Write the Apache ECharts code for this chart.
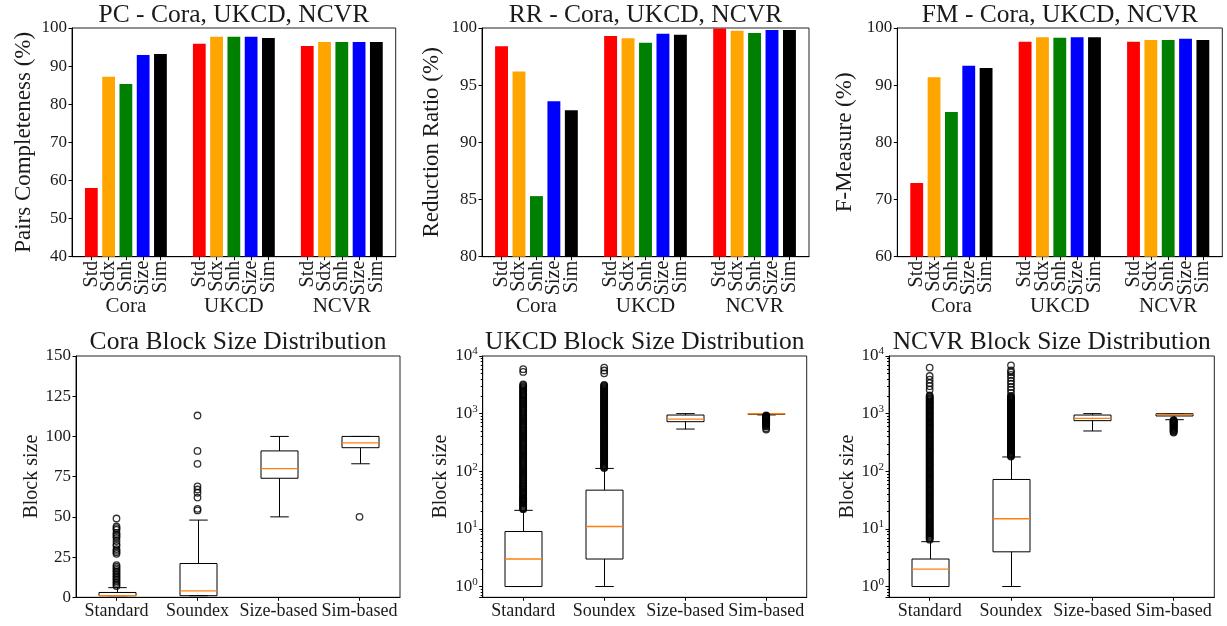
<!DOCTYPE html>
<html><head><meta charset="utf-8">
<script src="https://cdn.jsdelivr.net/npm/echarts@6/dist/echarts.min.js"></script>
<style>html,body{margin:0;padding:0;background:#fff}#c{width:1227px;height:626px}</style>
</head><body><div id="c"></div><script>
// ---------- data ----------
const datasets = ['Cora', 'UKCD', 'NCVR'];
const methods = ['Std', 'Sdx', 'Snh', 'Size', 'Sim'];
const pcValues = [[58.0, 87.2, 85.3, 92.9, 93.2], [95.9, 97.7, 97.7, 97.7, 97.4], [95.3, 96.3, 96.3, 96.3, 96.3]];
const rrValues = [[98.4, 96.2, 85.3, 93.6, 92.8], [99.3, 99.1, 98.7, 99.5, 99.4], [99.95, 99.75, 99.56, 99.83, 99.83]];
const fmValues = [[72.9, 91.4, 85.3, 93.4, 93.0], [97.6, 98.4, 98.3, 98.4, 98.4], [97.6, 97.9, 97.9, 98.1, 97.9]];
const pcTicks = [40, 100, 10];
const rrTicks = [80, 100, 5];
const fmTicks = [60, 100, 10];

const blockCats = ['Standard', 'Soundex', 'Size-based', 'Sim-based'];
// each box: [lower whisker, q1, median, q3, upper whisker]
const coraBoxes = [[1, 1, 1, 3, 6], [1, 1, 4, 21, 48], [50, 74, 80, 91, 100], [83, 93, 96, 100, 100]];
const coraOutStandard = [7, 8, 9, 10, 11, 12, 13, 14, 15, 16, 17, 18, 19, 20, 27, 28, 29, 30, 32, 33, 35, 37, 38, 39, 40, 42, 43, 44, 49];
const coraOutSoundex = [54, 55, 62, 65, 67, 69, 83, 91, 113];
const coraOutSize = [];
const coraOutSim = [50];

const ukcdBoxes = [[1, 1, 3, 9, 21], [1, 3, 11, 47, 112], [540, 725, 805, 945, 1000], [950, 975, 995, 1000, 1000]];
const ukcdOutStandard = [22, 22.5, 23, 24, 25, 26, 27, 28, 29, 30, 31, 32, 33, 34, 35, 37, 38, 40, 41, 43, 45, 47, 49, 51, 53, 55, 57, 60, 62, 65, 68, 71, 74, 77, 80, 84, 87, 91, 95, 99, 103, 108, 112, 117, 122, 128, 133, 139, 145, 151, 158, 165, 172, 179, 187, 195, 204, 213, 222, 231, 241, 252, 263, 274, 286, 298, 311, 325, 339, 353, 369, 385, 401, 419, 437, 456, 476, 496, 518, 540, 564, 588, 614, 640, 668, 697, 727, 759, 792, 826, 862, 899, 938, 979, 1021, 1066, 1112, 1160, 1210, 1263, 1318, 1375, 1434, 1497, 1562, 1629, 1700, 1774, 1851, 1931, 2015, 2102, 2193, 2289, 2388, 2491, 2600, 2712, 2830, 2953, 3081, 3200, 5300, 5900];
const ukcdOutSoundex = [114, 117, 121, 125, 129, 133, 137, 141, 146, 150, 155, 160, 165, 170, 176, 181, 187, 193, 199, 205, 212, 218, 225, 232, 240, 247, 255, 263, 271, 280, 289, 298, 307, 317, 327, 337, 348, 359, 370, 382, 394, 406, 419, 432, 446, 460, 474, 489, 505, 521, 537, 554, 572, 590, 608, 628, 647, 668, 689, 711, 733, 756, 780, 805, 830, 856, 883, 911, 940, 970, 1000, 1032, 1064, 1098, 1133, 1168, 1205, 1243, 1283, 1323, 1365, 1408, 1453, 1499, 1546, 1595, 1645, 1697, 1751, 1806, 1863, 1922, 1983, 2046, 2110, 2177, 2246, 2317, 2390, 2466, 2544, 2624, 2707, 2793, 2881, 2972, 3066, 3150, 5000, 5600, 6300];
const ukcdOutSize = [];
const ukcdOutSim = [930, 915, 900, 885, 870, 855, 840, 825, 810, 795, 780, 765, 750, 735, 720, 705, 690, 675, 660, 645, 630, 615, 600, 560, 530];

const ncvrBoxes = [[1, 1, 2, 3, 6], [1, 4, 15, 72, 177], [500, 755, 830, 945, 1000], [785, 910, 970, 1000, 1000]];
const ncvrOutStandard = [6.5, 6.8, 7, 7.3, 7.6, 7.9, 8.2, 8.5, 8.8, 9.2, 9.5, 9.9, 10.3, 10.7, 11.1, 11.5, 12, 12.5, 13, 13.5, 14, 14.6, 15.2, 15.8, 16.4, 17, 17.7, 18.4, 19.1, 19.9, 20.7, 21.5, 22.3, 23.2, 24.1, 25, 26, 27, 28, 29.2, 30.3, 31.5, 32.8, 34, 35.4, 36.8, 38.2, 39.7, 41.3, 42.9, 44.6, 46.4, 48.2, 50.1, 52, 54, 56.2, 58.4, 60.7, 63, 65.5, 68, 70.7, 73.5, 76.4, 79.4, 82.5, 85.7, 89, 92.5, 96, 100, 104, 108, 112, 117, 121, 126, 131, 136, 141, 147, 153, 159, 165, 171, 178, 185, 192, 200, 208, 216, 224, 233, 242, 252, 262, 272, 282, 293, 305, 317, 329, 342, 355, 369, 384, 399, 414, 430, 447, 465, 483, 502, 521, 542, 563, 585, 608, 632, 656, 682, 709, 736, 765, 795, 826, 858, 892, 927, 963, 1000, 1039, 1080, 1122, 1166, 1211, 1259, 1308, 1359, 1412, 1467, 1524, 1584, 1646, 1710, 1777, 1846, 1918, 1993, 2071, 2600, 3000, 3400, 3900, 4500, 6300];
const ncvrOutSoundex = [180, 185, 190, 195, 200, 206, 212, 218, 224, 230, 236, 243, 250, 257, 264, 271, 279, 287, 295, 303, 312, 320, 329, 339, 348, 358, 368, 378, 389, 400, 411, 423, 435, 447, 460, 473, 486, 500, 514, 528, 543, 559, 574, 591, 607, 624, 642, 660, 679, 698, 718, 738, 759, 780, 802, 825, 848, 872, 897, 922, 948, 975, 1003, 1031, 1060, 1090, 1121, 1153, 1185, 1219, 1253, 1289, 1325, 1363, 1401, 1441, 1482, 1523, 1566, 1611, 1656, 1703, 1751, 1801, 1852, 1904, 1958, 2013, 2300, 2600, 2900, 3300, 3700, 4200, 4700, 5200, 5600, 6900];
const ncvrOutSize = [];
const ncvrOutSim = [770, 755, 740, 725, 710, 695, 680, 665, 650, 635, 620, 605, 590, 575, 560, 545, 530, 515, 500, 485, 470];

const coraYTicks = [0, 150, 25];
const logMinorValues = [0.7, 0.8, 0.9, 2, 3, 4, 5, 6, 7, 8, 9, 20, 30, 40, 50, 60, 70, 80, 90, 200, 300, 400, 500, 600, 700, 800, 900, 2000, 3000, 4000, 5000, 6000, 7000, 8000, 9000];

// ---------- styles / layout ----------
const FONT = 'Liberation Serif';
const TXT = '#1a1a1a';
const methodColors = ['#ff0000', '#ffa500', '#008000', '#0000ff', '#000000'];
const MEDIAN = '#ff7f0e';
const topRects = [
  { left: 72, top: 28, width: 323.7, height: 228.7 },
  { left: 482, top: 28, width: 327, height: 228.7 },
  { left: 897.3, top: 28, width: 325, height: 228.7 }
];
const botRects = [
  { left: 76, top: 356, width: 324, height: 241.3 },
  { left: 482.7, top: 356, width: 324, height: 241.3 },
  { left: 889, top: 356, width: 325.3, height: 241.3 }
];
const GROUP_STEP = 6.25, X_MIN = -1.12, X_MAX = 17.62, BAR_FRAC = 0.74;
const BOX_W = 37;

const grids = [], xAxes = [], yAxes = [], series = [], titles = [];

function addGrid(r) { grids.push(Object.assign({ containLabel: false, show: false }, r)); return grids.length - 1; }
function frameGrid(r) {
  return Object.assign({ show: true, borderColor: '#222', borderWidth: 1, backgroundColor: 'transparent' }, r);
}
function tickStyle(len) { return { show: true, inside: false, length: len, lineStyle: { color: '#000', width: 1 } }; }
const axLine = { show: true, onZero: false, lineStyle: { color: '#000' } };
function addTitle(text, r, topPx) {
  titles.push({
    text, left: r.left + r.width / 2, top: topPx, textAlign: 'center', padding: 0,
    textStyle: { fontFamily: FONT, fontSize: 25.5, fontWeight: 'normal', color: TXT }
  });
}

// ---------- top row bar charts ----------
const topSpecs = [
  { title: 'PC - Cora, UKCD, NCVR', name: 'Pairs Completeness (%)', values: pcValues, ticks: pcTicks, gap: 37 },
  { title: 'RR - Cora, UKCD, NCVR', name: 'Reduction Ratio (%)', values: rrValues, ticks: rrTicks, gap: 39 },
  { title: 'FM - Cora, UKCD, NCVR', name: 'F-Measure (%)', values: fmValues, ticks: fmTicks, gap: 41 }
];
const barPositions = [];
datasets.forEach((d, g) => methods.forEach((m, i) => barPositions.push(g * GROUP_STEP + i)));
// blank end labels keep the automatic min/max label check away from the real labels
const barLabelValues = [X_MIN].concat(barPositions, [X_MAX]);
function posToMethod(v) {
  if (v < -0.5 || v > 2 * GROUP_STEP + 4.5) return '';
  const g = Math.floor((v + 0.5) / GROUP_STEP);
  const i = Math.round(v - g * GROUP_STEP);
  return methods[i] || '';
}
function posToDataset(v) { return datasets[Math.round((v - 2) / GROUP_STEP)] || ''; }

topSpecs.forEach((s, k) => {
  const r = topRects[k];
  grids.push(frameGrid(r));
  const gi = grids.length - 1;
  xAxes.push({
    gridIndex: gi, type: 'value', min: X_MIN, max: X_MAX, splitLine: { show: false },
    axisLine: axLine,
    axisTick: Object.assign(tickStyle(3.5), { customValues: barPositions }),
    axisLabel: {
      customValues: barLabelValues, rotate: 90, margin: 4, formatter: posToMethod, interval: 0,
      showMinLabel: true, showMaxLabel: true, hideOverlap: false,
      fontFamily: FONT, fontSize: 20, lineHeight: 13, color: TXT
    }
  });
  yAxes.push({
    gridIndex: gi, type: 'value', min: s.ticks[0], max: s.ticks[1], interval: s.ticks[2],
    splitLine: { show: false }, axisLine: axLine,
    axisTick: tickStyle(3.5),
    axisLabel: { fontFamily: FONT, fontSize: 17, color: TXT, margin: 5 },
    name: s.name, nameLocation: 'middle', nameGap: s.gap,
    nameTextStyle: { fontFamily: FONT, fontSize: 23, color: TXT }
  });
  const ai = xAxes.length - 1;
  const data = [];
  s.values.forEach((row, g) => row.forEach((v, i) => data.push({ value: [g * GROUP_STEP + i, v], itemStyle: { color: methodColors[i] } })));
  series.push({
    type: 'bar', xAxisIndex: ai, yAxisIndex: ai, data, clip: true,
    barWidth: r.width * BAR_FRAC / (X_MAX - X_MIN), silent: true, animation: false
  });
  const og = addGrid(r);
  xAxes.push({
    gridIndex: og, type: 'value', min: X_MIN, max: X_MAX, splitLine: { show: false },
    axisLine: { show: false, onZero: false }, axisTick: { show: false },
    axisLabel: { customValues: [2, 2 + GROUP_STEP, 2 + 2 * GROUP_STEP], formatter: posToDataset, showMinLabel: true, showMaxLabel: true, margin: 39, fontFamily: FONT, fontSize: 21, color: TXT }
  });
  yAxes.push({ gridIndex: og, type: 'value', show: false, min: 0, max: 1 });
  addTitle(s.title, r, 2);
});

// ---------- bottom row box plots ----------
function boxRender(params, api) {
  const x = api.value(0);
  const pLo = api.coord([x, api.value(1)]), pQ1 = api.coord([x, api.value(2)]), pMd = api.coord([x, api.value(3)]);
  const pQ3 = api.coord([x, api.value(4)]), pHi = api.coord([x, api.value(5)]);
  const cx = Math.round(pLo[0]) + 0.5, hw = BOX_W / 2, cw = BOX_W / 4;
  const ln = { stroke: '#000', lineWidth: 1 };
  return {
    type: 'group', children: [
      { type: 'line', shape: { x1: cx, y1: pQ1[1], x2: cx, y2: pLo[1] }, style: ln },
      { type: 'line', shape: { x1: cx, y1: pQ3[1], x2: cx, y2: pHi[1] }, style: ln },
      { type: 'line', shape: { x1: cx - cw, y1: pLo[1], x2: cx + cw, y2: pLo[1] }, style: ln },
      { type: 'line', shape: { x1: cx - cw, y1: pHi[1], x2: cx + cw, y2: pHi[1] }, style: ln },
      { type: 'rect', shape: { x: cx - hw, y: pQ3[1], width: BOX_W, height: pQ1[1] - pQ3[1] }, style: { fill: 'none', stroke: '#000', lineWidth: 1 } },
      { type: 'line', shape: { x1: cx - hw, y1: pMd[1], x2: cx + hw, y2: pMd[1] }, style: { stroke: MEDIAN, lineWidth: 1.3 } }
    ]
  };
}
function expLabel(v) {
  const l = Math.log10(v), e = Math.round(l);
  if (Math.abs(l - e) > 1e-6) return '';
  return '10{s|' + e + '}';
}
const botSpecs = [
  { title: 'Cora Block Size Distribution', boxes: coraBoxes, outs: [coraOutStandard, coraOutSoundex, coraOutSize, coraOutSim], log: false, gap: 32 },
  { title: 'UKCD Block Size Distribution', boxes: ukcdBoxes, outs: [ukcdOutStandard, ukcdOutSoundex, ukcdOutSize, ukcdOutSim], log: true, gap: 32 },
  { title: 'NCVR Block Size Distribution', boxes: ncvrBoxes, outs: [ncvrOutStandard, ncvrOutSoundex, ncvrOutSize, ncvrOutSim], log: true, gap: 30 }
];
botSpecs.forEach((s, k) => {
  const r = botRects[k];
  grids.push(frameGrid(r));
  const gi = grids.length - 1;
  xAxes.push({
    gridIndex: gi, type: 'category', data: blockCats, boundaryGap: true,
    axisLine: axLine,
    axisTick: Object.assign(tickStyle(3.5), { alignWithLabel: true }),
    axisLabel: { fontFamily: FONT, fontSize: 18, color: TXT, margin: 5, interval: 0 }
  });
  const y = {
    gridIndex: gi, splitLine: { show: false }, axisLine: axLine,
    axisTick: tickStyle(3.5),
    name: 'Block size', nameLocation: 'middle', nameGap: s.gap,
    nameTextStyle: { fontFamily: FONT, fontSize: 20, color: TXT }
  };
  if (s.log) {
    Object.assign(y, {
      type: 'log', logBase: 10, min: 0.65, max: 10000,
      axisLabel: {
        fontFamily: FONT, fontSize: 17, color: TXT, margin: 5, formatter: expLabel,
        rich: { s: { fontFamily: FONT, fontSize: 11, color: TXT, padding: [0, 0, 9, 0] } }
      }
    });
  } else {
    Object.assign(y, {
      type: 'value', min: coraYTicks[0], max: coraYTicks[1], interval: coraYTicks[2],
      axisLabel: { fontFamily: FONT, fontSize: 17, color: TXT, margin: 5 }
    });
  }
  yAxes.push(y);
  const ai = xAxes.length - 1;
  series.push({
    type: 'custom', xAxisIndex: ai, yAxisIndex: ai, renderItem: boxRender, silent: true, animation: false,
    encode: { x: 0, y: [1, 2, 3, 4, 5] },
    data: s.boxes.map((b, i) => [i].concat(b))
  });
  const pts = [];
  s.outs.forEach((arr, i) => arr.forEach(v => pts.push([i, v])));
  series.push({
    type: 'scatter', xAxisIndex: ai, yAxisIndex: ai, data: pts, symbol: 'circle', symbolSize: 6.5,
    itemStyle: { color: 'rgba(0,0,0,0)', borderColor: '#000', borderWidth: 1.3 }, silent: true, animation: false
  });
  if (s.log) {
    const og = addGrid(r);
    xAxes.push({ gridIndex: og, type: 'category', data: blockCats, show: false });
    yAxes.push({
      gridIndex: og, type: 'log', logBase: 10, min: 0.65, max: 10000, splitLine: { show: false },
      axisLine: { show: false, onZero: false }, axisLabel: { show: false },
      axisTick: Object.assign(tickStyle(2), { customValues: logMinorValues })
    });
  }
  addTitle(s.title, r, 329);
});

const chart = echarts.init(document.getElementById('c'), null, { renderer: 'canvas' });
chart.setOption({
  animation: false, backgroundColor: '#fff',
  title: titles, grid: grids, xAxis: xAxes, yAxis: yAxes, series
});
</script></body></html>
